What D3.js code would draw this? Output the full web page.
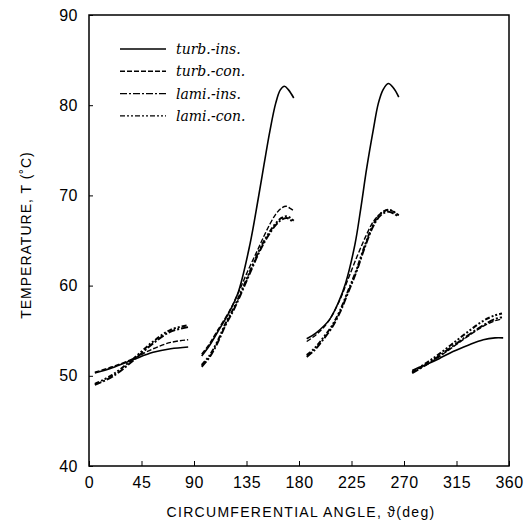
<!DOCTYPE html>
<html>
<head>
<meta charset="utf-8">
<script src="https://cdn.jsdelivr.net/npm/d3@7"></script>
<style>
  body { margin: 0; background: #fff; }
  svg { display: block; }
  .tick text { font-family: "Liberation Sans", Arial, sans-serif; font-size: 16px; letter-spacing: 0.5px; fill: #000; }
  .tick line { stroke: #000; stroke-width: 1; }
</style>
</head>
<body>
<svg id="chart" width="529" height="529"></svg>
<script>
// circumferential angle (deg), temperature (C); each series has four wall segments
const seriesNames = ["turb.-ins.", "turb.-con.", "lami.-ins.", "lami.-con."]
const xTicks = [0, 45, 90, 135, 180, 225, 270, 315, 360]
const yTicks = [40, 50, 60, 70, 80, 90]

const turbIns = [
  [[5,50.3],[20,50.9],[38,51.8],[55,52.6],[70,53.0],[85,53.2]],
  [[96.6,52.2],[103,53.3],[110,54.8],[120,57.0],[128,59.3],[138,64.6],[145,69.6],[150,73.4],[155,77.1],[160,80.2],[164,81.7],[167.5,82.1],[171,81.7],[175.5,80.8]],
  [[186.6,54.1],[195,54.8],[206,56.2],[214,58.2],[220,60.3],[228,64.6],[233,68.6],[238,73.0],[243.7,77.3],[248,80.2],[252,81.7],[256.5,82.4],[261,81.9],[265.5,80.9]],
  [[277,50.6],[290,51.3],[300,51.9],[312,52.7],[325,53.4],[338,54.0],[348,54.2],[355,54.2]]
]
const turbCon = [
  [[5,50.4],[20,51.0],[38,51.9],[55,53.0],[70,53.7],[85,54.0]],
  [[96.6,52.4],[103,53.5],[110,55.0],[120,57.1],[128,59.2],[136,61.6],[144,63.8],[150,65.5],[155,66.8],[160,67.9],[165,68.6],[169,68.8],[172,68.6],[175.5,68.3]],
  [[186.6,53.8],[195,54.6],[205,56.0],[215,58.4],[222,60.7],[230,63.3],[237,65.4],[243.7,67.1],[250,68.0],[256.6,68.4],[261,68.2],[265.5,67.8]],
  [[277,50.4],[290,51.3],[300,52.1],[312,53.2],[325,54.4],[338,55.5],[348,56.1],[354,56.3]]
]
const lamiIns = [
  [[5,49.0],[20,49.9],[38,51.7],[55,53.6],[70,54.9],[85,55.4]],
  [[96.6,51.0],[103,52.0],[110,53.6],[117,55.6],[124,57.3],[132,59.6],[140,62.0],[147,64.0],[154,65.6],[160,66.7],[165,67.3],[169.5,67.5],[172.5,67.3],[175.5,67.0]],
  [[186.6,52.1],[193,52.8],[200,53.9],[208,55.3],[215,57.0],[222,59.2],[229.4,61.6],[236,64.1],[243.7,66.6],[250,67.8],[256.6,68.2],[261,68.0],[265.5,67.6]],
  [[277,50.3],[290,51.3],[300,52.2],[312,53.3],[325,54.5],[338,55.6],[348,56.3],[354,56.5]]
]
const lamiCon = [
  [[5,49.1],[20,50.1],[38,51.9],[55,53.8],[70,55.1],[85,55.6]],
  [[96.6,51.2],[103,52.2],[110,53.8],[117,55.8],[124,57.5],[132,59.8],[140,62.2],[147,64.2],[154,65.8],[160,66.9],[165,67.5],[169.5,67.7],[172.5,67.5],[175.5,67.2]],
  [[186.6,52.3],[193,53.0],[200,54.1],[208,55.5],[215,57.2],[222,59.4],[229.4,61.8],[236,64.3],[243.7,66.8],[250,68.0],[256.6,68.4],[261,68.2],[265.5,67.8]],
  [[277,50.4],[290,51.5],[300,52.4],[312,53.6],[325,54.9],[338,56.1],[348,56.7],[354,56.9]]
]

const series = [
  { name: seriesNames[0], segs: turbIns, dash: null, width: 1.6 },
  { name: seriesNames[1], segs: turbCon, dash: "5,2", width: 1.4 },
  { name: seriesNames[2], segs: lamiIns, dash: "7,2,2,2", width: 2.0 },
  { name: seriesNames[3], segs: lamiCon, dash: "5,2,2,2,2,2", width: 2.0 }
]

const margin = { left: 89, right: 20, top: 15, bottom: 63 }
const width = 529, height = 529
const svg = d3.select("#chart")

const x = d3.scaleLinear().domain([0, 360]).range([margin.left, width - margin.right])
const y = d3.scaleLinear().domain([40, 90]).range([height - margin.bottom, margin.top])

// frame
svg.append("rect")
  .attr("x", x(0)).attr("y", y(90))
  .attr("width", x(360) - x(0)).attr("height", y(40) - y(90))
  .attr("fill", "none").attr("stroke", "#000").attr("stroke-width", 1.5)

// axes, ticks pointing inward
const xAxis = svg.append("g")
  .attr("transform", `translate(0,${y(40)})`)
  .call(d3.axisBottom(x).tickValues(xTicks).tickSizeInner(-5).tickSizeOuter(0).tickPadding(11))
xAxis.select(".domain").remove()

const yAxis = svg.append("g")
  .attr("transform", `translate(${x(0)},0)`)
  .call(d3.axisLeft(y).tickValues(yTicks).tickSizeInner(-4).tickSizeOuter(0).tickPadding(11))
yAxis.select(".domain").remove()

// axis titles
svg.append("text")
  .attr("x", 301).attr("y", 517)
  .attr("text-anchor", "middle")
  .style("font-family", "Liberation Sans, Arial, sans-serif")
  .style("font-size", "14px").style("letter-spacing", "1.3px")
  .text("CIRCUMFERENTIAL ANGLE, ϑ(deg)")

svg.append("text")
  .attr("transform", `translate(31,235) rotate(-90)`)
  .attr("text-anchor", "middle")
  .style("font-family", "Liberation Sans, Arial, sans-serif")
  .style("font-size", "14px").style("letter-spacing", "1px")
  .text("TEMPERATURE, T (˚C)")

// curves
const line = d3.line()
  .x(d => x(d[0]))
  .y(d => y(d[1]))
  .curve(d3.curveCatmullRom.alpha(0.5))

series.forEach(s => {
  s.segs.forEach(seg => {
    svg.append("path")
      .datum(seg)
      .attr("d", line)
      .attr("fill", "none")
      .attr("stroke", "#000")
      .attr("stroke-width", s.width)
      .attr("stroke-dasharray", s.dash)
  })
})

// legend
const legend = svg.append("g").attr("transform", "translate(120,49)")
series.forEach((s, i) => {
  const g = legend.append("g").attr("transform", `translate(0,${i * 22.3})`)
  g.append("line")
    .attr("x1", 0).attr("x2", 46)
    .attr("stroke", "#000")
    .attr("stroke-width", s.width > 1.6 ? 1.4 : s.width)
    .attr("stroke-dasharray", s.dash)
  g.append("text")
    .attr("x", 56).attr("y", 5)
    .style("font-family", "DejaVu Serif, serif")
    .style("font-style", "italic")
    .style("font-size", "14px")
    .text(s.name)
})
</script>
</body>
</html>
